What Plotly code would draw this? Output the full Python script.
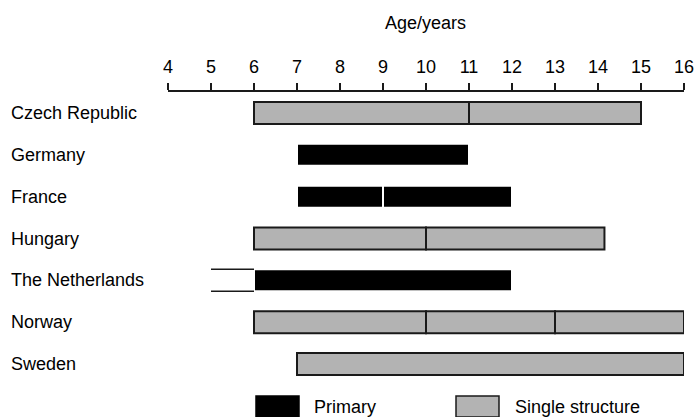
import plotly.graph_objects as go

countries = ["Czech Republic", "Germany", "France", "Hungary",
             "The Netherlands", "Norway", "Sweden"]

seg_country = ["Czech Republic", "Czech Republic", "Germany", "France", "France",
               "Hungary", "Hungary", "The Netherlands", "The Netherlands",
               "Norway", "Norway", "Norway", "Sweden"]
seg_start = [6, 11, 7, 7, 9, 6, 10, 5, 6, 6, 10, 13, 7]
seg_end = [11, 15, 11, 9, 12, 10, 14.15, 6, 12, 10, 13, 16, 16]
seg_type = ["Single structure", "Single structure", "Primary", "Primary", "Primary",
            "Single structure", "Single structure", "Pre-primary", "Primary",
            "Single structure", "Single structure", "Single structure", "Single structure"]

tick_vals = list(range(4, 17))
x_title = "Age/years"
legend_items = ["Primary", "Single structure"]

FONT = "Liberation Sans, Arial, sans-serif"
FS = 18
GRAY = "#b3b3b3"
DARK = "#1a1a1a"
BAR_W = 0.525

W, H = 694, 417
L, R, T, B = 168, 10, 92, 32

fig = go.Figure()

styles = {
    "Single structure": dict(color=GRAY, line=dict(color=DARK, width=2)),
    "Primary": dict(color="black", line=dict(color="white", width=2)),
    "Pre-primary": dict(color="white", line=dict(color="white", width=0)),
}

for typ in ["Pre-primary", "Single structure", "Primary"]:
    idx = [i for i, t in enumerate(seg_type) if t == typ]
    fig.add_trace(go.Bar(
        orientation="h",
        y=[countries.index(seg_country[i]) for i in idx],
        base=[seg_start[i] for i in idx],
        x=[seg_end[i] - seg_start[i] for i in idx],
        width=BAR_W,
        marker=styles[typ],
        name=typ,
        showlegend=False,
        hoverinfo="skip",
    ))

# top/bottom outline for the open (white) segment
for i, t in enumerate(seg_type):
    if t == "Pre-primary":
        r = countries.index(seg_country[i])
        for dy in (-BAR_W / 2, BAR_W / 2):
            fig.add_trace(go.Scatter(
                x=[seg_start[i], seg_end[i]], y=[r + dy, r + dy],
                mode="lines", line=dict(color=DARK, width=1.5),
                showlegend=False, hoverinfo="skip"))

plot_w = W - L - R
plot_h = H - T - B


def px_x(p):
    return (p - L) / plot_w


def px_y(p):
    return (H - B - p) / plot_h


annotations = []
for r, c in enumerate(countries):
    annotations.append(dict(text=c, x=px_x(9), xref="paper", y=r, yref="y",
                            xanchor="left", yanchor="middle", showarrow=False,
                            font=dict(family=FONT, size=FS, color="black")))

annotations.append(dict(text=x_title, x=px_x(425), xref="paper", y=px_y(23), yref="paper",
                        xanchor="center", yanchor="middle", showarrow=False,
                        font=dict(family=FONT, size=FS, color="black")))

shapes = []
legend_boxes = [(256, 299, "black", "black"), (456, 499, GRAY, DARK)]
legend_text_x = [312, 513]
for (x0, x1, fill, ln), tx, name in zip(legend_boxes, legend_text_x, legend_items):
    shapes.append(dict(type="rect", xref="paper", yref="paper",
                       x0=px_x(x0), x1=px_x(x1), y0=px_y(396), y1=px_y(417),
                       fillcolor=fill, line=dict(color=ln, width=1.5)))
    annotations.append(dict(text=name, x=px_x(tx), xref="paper", y=px_y(406.5),
                            yref="paper", xanchor="left", yanchor="middle",
                            showarrow=False,
                            font=dict(family=FONT, size=FS, color="black")))

fig.update_layout(
    width=W, height=H,
    margin=dict(l=L, r=R, t=T, b=B, pad=0, autoexpand=False),
    paper_bgcolor="white", plot_bgcolor="white",
    barmode="overlay",
    font=dict(family=FONT, size=FS, color="black"),
    xaxis=dict(range=[4, 16], side="top", tickvals=tick_vals,
               ticks="outside", ticklen=7, tickwidth=2, tickcolor=DARK,
               ticklabelstandoff=3, ticklabeloverflow="allow", automargin=False,
               showline=True, linecolor=DARK, linewidth=2,
               showgrid=False, zeroline=False,
               tickfont=dict(family=FONT, size=FS, color="black")),
    yaxis=dict(range=[6.5, -0.5], showticklabels=False, showgrid=False,
               zeroline=False, showline=False, ticks="", automargin=False),
    annotations=annotations,
    shapes=shapes,
)

fig.write_html(
    "out.html",
    config={"displayModeBar": False, "staticPlot": True},
    post_script="document.body.style.margin='0';document.body.style.overflow='hidden';",
)
